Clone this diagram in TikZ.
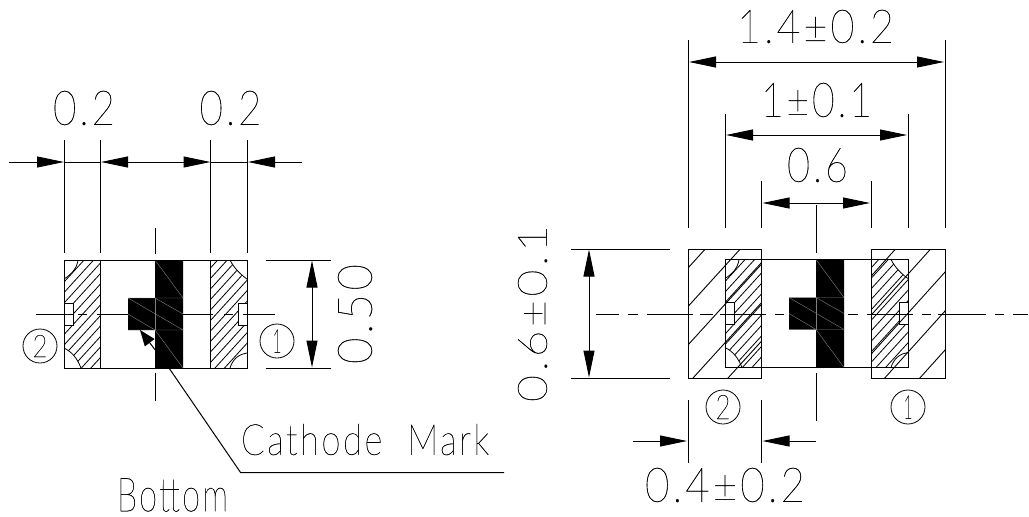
\documentclass[tikz,border=0pt]{standalone}
\usepackage{fontspec}
\usepackage{graphicx}
\usetikzlibrary{arrows.meta}
\setmainfont{Lato}[UprightFont=* Thin,LetterSpace=7,FakeBold=0.4]
\tikzset{
  ln/.style={line width=1pt,black},
  dimline/.style={line width=1pt,black},
  dimarrow/.style={line width=1pt,black,-{Triangle[length=27pt,width=11pt]}},
  hatchfine/.style={line width=.8pt,black},
  hatchbig/.style={line width=.9pt,black},
  innerline/.style={line width=.4pt,black!50},
  caplabel/.style={inner sep=0pt,outer sep=0pt},
  numcircle/.style={circle,draw,line width=.8pt,minimum size=34pt,inner sep=0pt}
}
% name, x, y, width, height, rotation, text
\newcommand\cadlabel[7]{\node[caplabel,rotate=#6] (#1) at (#2,#3) {\resizebox{#4pt}{#5pt}{#7}};}
\newcommand\finehatch{%
  \foreach \c in {300,310.5,...,700} \draw[hatchfine] (50,{\c-55}) -- (260,{\c-286});}
\newcommand\chipbody{%
  \begin{scope}
    \clip (64,279) .. controls (72,274) and (77,268) .. (78,260) -- (100.5,260) -- (100.5,368) -- (81,368) .. controls (77,358) and (72,352) .. (64,348) -- cycle;
    \finehatch
  \end{scope}
  \begin{scope}
    \clip (247,279) .. controls (240,274) and (234,268) .. (230,260) -- (210.5,260) -- (210.5,368) -- (230,368) .. controls (233,358) and (240,354) .. (247,353) -- cycle;
    \finehatch
  \end{scope}
  \draw[line width=.8pt] (64,279) .. controls (72,274) and (77,268) .. (78,260);
  \draw[line width=.8pt] (81,368) .. controls (77,358) and (72,352) .. (64,348);
  \draw[line width=.8pt] (247,279) .. controls (240,274) and (234,268) .. (230,260);
  \draw[line width=.8pt] (230,368) .. controls (233,358) and (240,354) .. (247,353);
  \fill[black] (155,260) -- (183,260) -- (183,368) -- (155,368) -- (155,330) -- (128,330) -- (128,298) -- (155,298) -- cycle;
  \draw[innerline] (155,260) -- (183,298) -- (128,298);
  \draw[innerline] (128,298) -- (183,330) -- (128,330);
  \draw[innerline] (128,314) -- (155,330) -- (183,368);
  \draw[innerline] (155,298) -- (183,314);
  \draw[innerline] (155,298) -- (155,330);
  \draw[ln,fill=white] (64,303) -- (73,303) -- (73,325) -- (64,325);
  \draw[ln,fill=white] (247,303) -- (238,303) -- (238,325) -- (247,325);
  \draw[ln] (64,260) rectangle (247,368);
  \draw[ln] (100.5,260) -- (100.5,368);
  \draw[ln] (210.5,260) -- (210.5,368);
}
\begin{document}
\begin{tikzpicture}[x=1pt,y=-1pt]
\useasboundingbox (0,0) rectangle (1029,517);
\fill[white] (0,0) rectangle (1029,517);

% ---------- left view ----------
\chipbody
\foreach \a/\b in {36/73,78/87,97/128,183/213,224/233,243/275} \draw[ln] (\a,314) -- (\b,314);
\draw[ln] (155,228) -- (155,254);
\draw[ln] (155,373) -- (155,401);
\foreach \x in {64,100.5,210.5,247} \draw[ln] (\x,140) -- (\x,253);
\coordinate (a1) at (9,162); \coordinate (a2) at (64,162);
\coordinate (a4) at (101,162);
\coordinate (a6) at (210.5,162);
\coordinate (a7) at (302,162); \coordinate (a8) at (248,162);
\draw[dimarrow] (a1) -- (a2);
\draw[dimline] (a2) -- (a4);
\draw[dimarrow] (155,162) -- (a4);
\draw[dimarrow] (155,162) -- (a6);
\draw[dimline] (a6) -- (a8);
\draw[dimarrow] (a7) -- (a8);
\cadlabel{l02a}{84}{108}{62}{34}{0}{0.2}
\cadlabel{l02b}{230.5}{108}{62}{34}{0}{0.2}
\draw[ln] (265.5,260) -- (331,260);
\draw[ln] (265.5,368) -- (331,368);
\coordinate (v50) at (312,314);
\draw[dimarrow] (v50) -- (312,260.5);
\draw[dimarrow] (v50) -- (312,367.5);
\cadlabel{l050}{355}{314}{100}{34}{90}{0.50}
\node[numcircle] (c2l) at (40,346) {\resizebox{15pt}{22pt}{2}};
\node[numcircle] (c1l) at (277,341) {\resizebox{9pt}{23pt}{1}};
% leader
\coordinate (ldA) at (140,330);
\coordinate (ldB) at (169,368);
\coordinate (ldC) at (240.7,472.7);
\coordinate (ldD) at (504,472.7);
\draw[line width=1pt,-{Triangle[length=16pt,width=12pt]}] (ldB) -- (ldA);
\draw[ln] (ldB) -- (ldC) -- (ldD);
\cadlabel{cath}{365}{439.5}{248}{31}{0}{Cathode\ \ Mark}
\cadlabel{bott}{172.5}{495}{111}{33}{0}{Bottom}

% ---------- right view ----------
\begin{scope}[shift={(661,-0.5)}]
\chipbody
\end{scope}
\begin{scope}
  \clip (688,249) rectangle (761.5,378);
  \foreach \k in {-3,...,8} \draw[hatchbig] (680,{268+38.5*\k+8.8}) -- (770,{268+38.5*\k-90.2});
\end{scope}
\begin{scope}
  \clip (871,249) rectangle (945,378);
  \foreach \k in {-3,...,8} \draw[hatchbig] (860,{272.7+39*\k+93.8}) -- (950,{272.7+39*\k-6.2});
\end{scope}
\draw[ln] (688,249) rectangle (761.5,378);
\draw[ln] (871,249) rectangle (945,378);
\foreach \a/\b in {596/619,628/638,647/693,700/713,720/766,775/784,848/858,867/913,922/931,938/986,995/1004,1013/1028} \draw[ln] (\a,314) -- (\b,314);
\draw[ln] (816.5,205) -- (816.5,253);
\draw[ln] (816.5,373) -- (816.5,421);
\foreach \x in {688,945} \draw[ln] (\x,40) -- (\x,228);
\foreach \x in {725,908} \draw[ln] (\x,114) -- (\x,228);
\foreach \x in {761.5,871} \draw[ln] (\x,181) -- (\x,228);
\coordinate (d14) at (816.5,62);
\draw[dimarrow] (d14) -- (689,62);
\draw[dimarrow] (d14) -- (944,62);
\coordinate (d10) at (816.5,135);
\draw[dimarrow] (d10) -- (726,135);
\draw[dimarrow] (d10) -- (907,135);
\coordinate (d06) at (816.5,203);
\draw[dimarrow] (d06) -- (762.5,203);
\draw[dimarrow] (d06) -- (870,203);
\cadlabel{l14}{815.5}{26.5}{157}{33}{0}{1.4±0.2}
\cadlabel{l10}{816.5}{100}{111}{34}{0}{1±0.1}
\cadlabel{l06}{817.5}{165}{61}{34}{0}{0.6}
\draw[ln] (571,249) -- (670,249);
\draw[ln] (571,378) -- (670,378);
\coordinate (v06) at (589,314);
\draw[dimarrow] (v06) -- (589,249.5);
\draw[dimarrow] (v06) -- (589,377.5);
\cadlabel{lv06}{532.5}{313.5}{177}{29}{90}{0.6±0.1}
\node[numcircle] (c2r) at (723,407) {\resizebox{15pt}{24pt}{2}};
\node[numcircle] (c1r) at (908,407) {\resizebox{9pt}{23pt}{1}};
\foreach \x in {688,761} \draw[ln] (\x,400) -- (\x,463);
\coordinate (b1) at (633,441); \coordinate (b2) at (816,441);
\draw[dimarrow] (b1) -- (687,441);
\draw[dimarrow] (b2) -- (762.5,441);
\cadlabel{l04}{725}{485}{160}{34}{0}{0.4±0.2}
\end{tikzpicture}
\end{document}
